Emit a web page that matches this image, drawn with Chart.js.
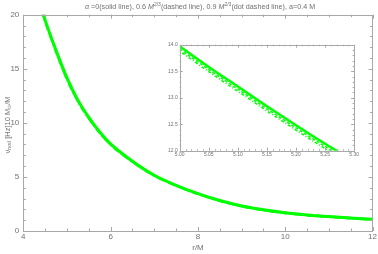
<!DOCTYPE html>
<html>
<head>
<meta charset="utf-8">
<script src="https://cdn.jsdelivr.net/npm/chart.js@4.4.1/dist/chart.umd.min.js"></script>
<style>
  body { margin: 0; background: #fff; }
  #wrap { position: relative; width: 378px; height: 254px; }
  #main { position: absolute; left: 0; top: 0; }
  #insetBox { position: absolute; left: 160px; top: 38px; width: 200px; height: 126px; }
</style>
</head>
<body>
<div id="wrap">
  <canvas id="main" width="378" height="254"></canvas>
  <div id="insetBox"><canvas id="inset" width="200" height="126"></canvas></div>
</div>
<script>
// main plot, r/M vs nu_nod
const mainR      = [4.40, 4.50, 4.75, 5.00, 5.25, 5.50, 5.75, 6.00, 6.50, 7.00, 7.50, 8.00, 8.50, 9.00, 9.50, 10.0, 10.5, 11.0, 11.5, 12.0];
const mainSolid  = [20.8, 19.5, 16.7, 14.15, 12.10, 10.5, 9.15, 8.05, 6.45, 5.15, 4.22, 3.45, 2.82, 2.32, 1.96, 1.68, 1.48, 1.33, 1.20, 1.08];
const mainDashed = [20.75, 19.45, 16.65, 14.10, 12.05, 10.46, 9.12, 8.02, 6.43, 5.13, 4.21, 3.44, 2.81, 2.31, 1.95, 1.67, 1.47, 1.32, 1.19, 1.07];
const mainDotDash= [20.7, 19.4, 16.6, 14.06, 12.01, 10.43, 9.09, 8.00, 6.41, 5.12, 4.20, 3.43, 2.80, 2.30, 1.94, 1.66, 1.46, 1.31, 1.18, 1.06];

// inset, zoom on 5.00 - 5.30
const insetR       = [5.00, 5.05, 5.10, 5.15, 5.20, 5.25, 5.30];
const insetSolid   = [13.97, 13.58, 13.21, 12.84, 12.48, 12.13, 11.80];
const insetDashed  = [13.92, 13.53, 13.16, 12.79, 12.43, 12.08, 11.75];
const insetDotDash = [13.88, 13.49, 13.12, 12.75, 12.39, 12.04, 11.71];

const xTickLabels = [4, 6, 8, 10, 12];
const yTickLabels = [0, 5, 10, 15, 20];

const GREEN = '#00ff00';
const FRAME = '#a8a8a8';
const TXT = '#707070';

const pts = (xs, ys) => xs.map((x, i) => ({x: x, y: ys[i]}));

// draws inward ticks + frame
const frameTicks = (opts) => ({
    id: 'frameTicks',
    afterDraw(chart) {
        const ctx = chart.ctx;
        const a = chart.chartArea;
        const xs = chart.scales.x, ys = chart.scales.y;
        ctx.save();
        ctx.strokeStyle = FRAME;
        ctx.lineWidth = 1;
        ctx.strokeRect(Math.round(a.left) + 0.5, Math.round(a.top) + 0.5,
            Math.round(a.right - a.left), Math.round(a.bottom - a.top));
        ctx.beginPath();
        for (let v = opts.xMin; v <= opts.xMax + 1e-9; v += opts.xMinor) {
            const px = Math.round(xs.getPixelForValue(v)) + 0.5;
            const major = Math.abs(v / opts.xMajor - Math.round(v / opts.xMajor)) < 1e-6;
            const L = major ? opts.major : opts.minor;
            ctx.moveTo(px, a.bottom); ctx.lineTo(px, a.bottom - L);
            ctx.moveTo(px, a.top); ctx.lineTo(px, a.top + L);
        }
        for (let v = opts.yMin; v <= opts.yMax + 1e-9; v += opts.yMinor) {
            const py = Math.round(ys.getPixelForValue(v)) + 0.5;
            const major = Math.abs(v / opts.yMajor - Math.round(v / opts.yMajor)) < 1e-6;
            const L = major ? opts.major : opts.minor;
            ctx.moveTo(a.left, py); ctx.lineTo(a.left + L, py);
            ctx.moveTo(a.right, py); ctx.lineTo(a.right - L, py);
        }
        ctx.stroke();
        ctx.restore();
    }
});

// rich text pieces: [text, style] style: '' normal, 'i' italic, 'sup', 'sub'
const drawRich = (ctx, parts, size, family) => {
    const fontFor = (st) => {
        const s = (st === 'sup' || st === 'sub') ? size * 0.7 : size;
        const it = (st === 'i') ? 'italic ' : '';
        return it + s + 'px ' + family;
    };
    let w = 0;
    parts.forEach(p => { ctx.font = fontFor(p[1]); w += ctx.measureText(p[0]).width; });
    return {
        width: w,
        draw(x0, y0) {
            let x = x0;
            parts.forEach(p => {
                ctx.font = fontFor(p[1]);
                let dy = 0;
                if (p[1] === 'sup') dy = -size * 0.4;
                if (p[1] === 'sub') dy = size * 0.25;
                ctx.fillText(p[0], x, y0 + dy);
                x += ctx.measureText(p[0]).width;
            });
        }
    };
};

const labels = {
    id: 'labels',
    afterDraw(chart) {
        const ctx = chart.ctx;
        ctx.save();
        ctx.fillStyle = TXT;
        ctx.textBaseline = 'middle';
        ctx.textAlign = 'left';
        const fam = '"Liberation Sans", Arial, sans-serif';
        const title = drawRich(ctx, [
            ['α', 'i'], [' =0(solid line), 0.6 ', ''], ['M', 'i'], ['2/3', 'sup'],
            ['(dashed line), 0.9 ', ''], ['M', 'i'], ['2/3', 'sup'],
            ['(dot dashed line), a=0.4 M', '']
        ], 7.2, fam);
        title.draw(200 - title.width / 2, 7);

        ctx.textAlign = 'center';
        ctx.font = '8px ' + fam;
        ctx.fillText('r/M', 198, 248);

        ctx.translate(8, 125);
        ctx.rotate(-Math.PI / 2);
        ctx.textAlign = 'left';
        const yl = drawRich(ctx, [
            ['ν', ''], ['nod', 'sub'], [' [Hz]10 M', ''], ['⊙', 'sub'], ['/M', '']
        ], 7.5, fam);
        yl.draw(-yl.width / 2, 0);
        ctx.restore();
    }
};

const mainCtx = document.getElementById('main').getContext('2d');
new Chart(mainCtx, {
    type: 'line',
    data: {
        datasets: [
            { data: pts(mainR, mainSolid), borderColor: GREEN, borderWidth: 3 },
            { data: pts(mainR, mainDashed), borderColor: GREEN, borderWidth: 2.5, borderDash: [6, 3] },
            { data: pts(mainR, mainDotDash), borderColor: GREEN, borderWidth: 2.5, borderDash: [1, 3, 6, 3] }
        ]
    },
    options: {
        responsive: false,
        animation: false,
        layout: { padding: { top: 14.7, right: 5, left: 0, bottom: 0 } },
        elements: {
            point: { radius: 0 },
            line: { cubicInterpolationMode: 'monotone', fill: false }
        },
        datasets: { line: { clip: 0 } },
        plugins: { legend: { display: false }, tooltip: { enabled: false } },
        scales: {
            x: {
                type: 'linear', min: 4, max: 12,
                afterBuildTicks: (s) => { s.ticks = xTickLabels.map(v => ({value: v})); },
                afterFit: (s) => { s.height = 23; },
                grid: { display: false, drawTicks: false },
                border: { display: false },
                ticks: { color: TXT, font: { size: 8, family: '"Liberation Sans", Arial' }, padding: 1, maxRotation: 0 }
            },
            y: {
                min: 0, max: 20,
                afterBuildTicks: (s) => { s.ticks = yTickLabels.map(v => ({value: v})); },
                afterFit: (s) => { s.width = 23.3; },
                grid: { display: false, drawTicks: false },
                border: { display: false },
                ticks: { color: TXT, font: { size: 8, family: '"Liberation Sans", Arial' }, padding: 4 }
            }
        }
    },
    plugins: [frameTicks({ xMin: 4, xMax: 12, xMinor: 0.5, xMajor: 2, yMin: 0, yMax: 20, yMinor: 1, yMajor: 5, major: 4, minor: 2.5 }), labels]
});

const insetCtx = document.getElementById('inset').getContext('2d');
new Chart(insetCtx, {
    type: 'line',
    data: {
        datasets: [
            { data: pts(insetR, insetSolid), borderColor: GREEN, borderWidth: 2.5 },
            { data: pts(insetR, insetDashed), borderColor: GREEN, borderWidth: 1.5, borderDash: [3, 2] },
            { data: pts(insetR, insetDotDash), borderColor: GREEN, borderWidth: 1.5, borderDash: [1, 2, 3, 2] }
        ]
    },
    options: {
        responsive: false,
        animation: false,
        layout: { padding: { top: 6.7, right: 4.3, left: 0, bottom: 0 } },
        elements: {
            point: { radius: 0 },
            line: { cubicInterpolationMode: 'monotone', fill: false }
        },
        datasets: { line: { clip: 0 } },
        plugins: { legend: { display: false }, tooltip: { enabled: false } },
        scales: {
            x: {
                type: 'linear', min: 5.0, max: 5.3,
                afterBuildTicks: (s) => { s.ticks = insetR.map(v => ({value: v})); },
                afterFit: (s) => { s.height = 13.3; },
                grid: { display: false, drawTicks: false },
                border: { display: false },
                ticks: { color: TXT, font: { size: 5, family: '"Liberation Sans", Arial' }, padding: 1, maxRotation: 0,
                         callback: (v) => Number(v).toFixed(2) }
            },
            y: {
                min: 12, max: 14,
                afterBuildTicks: (s) => { s.ticks = [12, 12.5, 13, 13.5, 14].map(v => ({value: v})); },
                afterFit: (s) => { s.width = 19.7; },
                grid: { display: false, drawTicks: false },
                border: { display: false },
                ticks: { color: TXT, font: { size: 5, family: '"Liberation Sans", Arial' }, padding: 2,
                         callback: (v) => Number(v).toFixed(1) }
            }
        }
    },
    plugins: [frameTicks({ xMin: 5.0, xMax: 5.3, xMinor: 0.01, xMajor: 0.05, yMin: 12, yMax: 14, yMinor: 0.1, yMajor: 0.5, major: 3, minor: 1.5 })]
});
</script>
</body>
</html>
